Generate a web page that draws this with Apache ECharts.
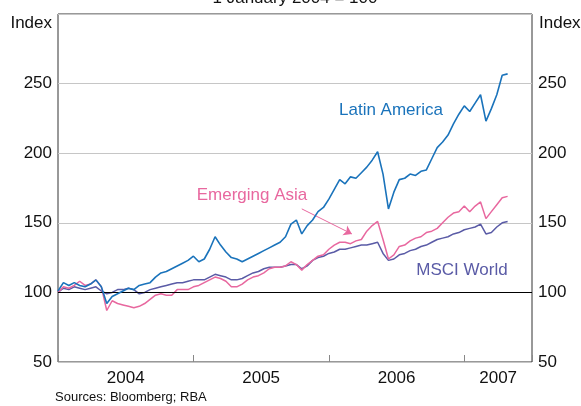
<!DOCTYPE html>
<html><head><meta charset="utf-8">
<script src="https://cdn.jsdelivr.net/npm/echarts@6/dist/echarts.min.js"></script>
<style>html,body{margin:0;padding:0;background:#fff}#c{width:581px;height:406px}</style>
</head><body><div id="c"></div><script>
const dates = [2004.00,2004.04,2004.08,2004.12,2004.16,2004.20,2004.24,2004.28,2004.32,2004.36,
2004.40,2004.44,2004.48,2004.52,2004.56,2004.60,2004.64,2004.68,2004.72,2004.76,
2004.80,2004.84,2004.88,2004.92,2004.96,2005.00,2005.04,2005.08,2005.12,2005.16,
2005.20,2005.24,2005.28,2005.32,2005.36,2005.40,2005.44,2005.48,2005.52,2005.56,
2005.60,2005.64,2005.68,2005.72,2005.76,2005.80,2005.84,2005.88,2005.92,2005.96,
2006.00,2006.04,2006.08,2006.12,2006.16,2006.20,2006.24,2006.28,2006.32,2006.36,
2006.40,2006.44,2006.48,2006.52,2006.56,2006.60,2006.64,2006.68,2006.72,2006.76,
2006.80,2006.84,2006.88,2006.92,2006.96,2007.00,2007.04,2007.08,2007.12,2007.16,
2007.20,2007.24,2007.28,2007.32];
const latinAmerica = [101,107,105,107,105,104,106,109,104,92,
97,99,101,103,102,105,106,107,111,114,
115,117,119,121,123,126,122,124,131,140,
134,129,125,124,122,124,126,128,130,132,
134,136,140,149,152,142,148,152,158,161,
167,174,181,178,183,182,186,190,195,201,
185,160,172,181,182,185,184,187,188,196,
204,208,213,221,228,234,230,236,242,223,
232,242,256,257];
const emergingAsia = [100,104,103,105,108,105,106,109,104,87,
94,92,91,90,89,90,92,95,98,99,
98,98,102,102,102,104,105,107,109,111,
110,108,104,104,106,109,111,112,114,117,
118,118,119,122,120,116,120,123,126,127,
131,134,136,136,135,137,138,144,148,151,
138,124,127,133,134,137,139,140,143,144,
146,150,154,157,158,162,158,162,165,153,
158,163,168,169];
const msciWorld = [100,103,102,104,103,102,103,104,101,99,
100,102,102,103,102,99,100,102,103,104,
105,106,107,107,108,109,109,109,111,113,
112,111,109,109,110,112,114,115,117,118,
118,118,119,120,120,117,119,123,125,126,
128,129,131,131,132,133,134,134,135,136,
128,123,124,127,128,130,131,133,134,136,
138,139,140,142,143,145,146,147,149,142,
143,147,150,151];
const yearLabels = ['2004','2005','2006','2007'];
const yearLabelPos = [2004.5,2005.5,2006.5,2007.25];
const arrowFrom = [2005.80, 160];
const arrowTo = [2006.17, 142];

const FONT = "'Liberation Sans', Arial, sans-serif";
const C_LA = '#1a73bb', C_EA = '#e8689f', C_MS = '#5a5ba6';
const pairs = (vals) => dates.map((d, i) => [d, vals[i]]);

const chart = echarts.init(document.getElementById('c'), null, {renderer: 'canvas'});
const yAxisBase = {
  type: 'value', min: 50, max: 300, interval: 50,
  axisLine: {show: false}, axisTick: {show: false},
  axisLabel: {fontSize: 17, color: '#111', fontFamily: FONT, margin: 6,
    formatter: v => (v === 300 ? '' : String(v))}
};
chart.setOption({
  animation: false,
  textStyle: {fontFamily: FONT},
  grid: {left: 58, right: 49, top: 14, bottom: 44, show: true, borderColor: '#333', borderWidth: 1, containLabel: false},
  xAxis: [
    {type: 'value', min: 2004, max: 2007.5, interval: 0.25, position: 'bottom',
     axisLine: {show: false}, axisTick: {show: false}, splitLine: {show: false},
     axisLabel: {fontSize: 17, color: '#111', fontFamily: FONT, margin: 8, showMinLabel: true, showMaxLabel: true,
       formatter: v => { const i = yearLabelPos.findIndex(p => Math.abs(p - v) < 1e-6); return i >= 0 ? yearLabels[i] : ''; }}},
    {type: 'value', min: 2004, max: 2007.5, interval: 1, position: 'bottom',
     axisLine: {show: false}, axisLabel: {show: false}, splitLine: {show: false},
     axisTick: {show: true, inside: true, length: 7, lineStyle: {color: '#888', width: 1}}}
  ],
  yAxis: [
    Object.assign({}, yAxisBase, {position: 'left', splitLine: {show: true, lineStyle: {color: '#c6c6c6', width: 1}}}),
    Object.assign({}, yAxisBase, {position: 'right', splitLine: {show: false}})
  ],
  series: [
    {name: 'MSCI World', type: 'line', data: pairs(msciWorld), showSymbol: false, symbol: 'none',
     lineStyle: {color: C_MS, width: 1.5}, z: 3,
     markLine: {silent: true, symbol: 'none', label: {show: false},
       lineStyle: {color: '#000', width: 1, type: 'solid'}, data: [{yAxis: 100}]}},
    {name: 'Emerging Asia', type: 'line', data: pairs(emergingAsia), showSymbol: false, symbol: 'none',
     lineStyle: {color: C_EA, width: 1.5}, z: 4,
     markLine: {silent: true, symbol: ['none', 'arrow'], symbolSize: 8, label: {show: false},
       lineStyle: {color: C_EA, width: 1, type: 'solid'},
       data: [[{coord: arrowFrom}, {coord: arrowTo}]]}},
    {name: 'Latin America', type: 'line', data: pairs(latinAmerica), showSymbol: false, symbol: 'none',
     lineStyle: {color: C_LA, width: 1.6}, z: 5}
  ],
  graphic: [
    {type: 'text', x: 295, y: -2, style: {text: '1 January 2004 = 100', fontSize: 17, fontFamily: FONT, fill: '#111', align: 'center', verticalAlign: 'middle'}},
    {type: 'text', x: 52, y: 23, style: {text: 'Index', fontSize: 17, fontFamily: FONT, fill: '#111', align: 'right', verticalAlign: 'middle'}},
    {type: 'text', x: 539, y: 23, style: {text: 'Index', fontSize: 17, fontFamily: FONT, fill: '#111', align: 'left', verticalAlign: 'middle'}},
    {type: 'text', x: 391, y: 110, style: {text: 'Latin America', fontSize: 17, fontFamily: FONT, fill: C_LA, align: 'center', verticalAlign: 'middle'}},
    {type: 'text', x: 252, y: 195, style: {text: 'Emerging Asia', fontSize: 17, fontFamily: FONT, fill: C_EA, align: 'center', verticalAlign: 'middle'}},
    {type: 'text', x: 462, y: 270, style: {text: 'MSCI World', fontSize: 17, fontFamily: FONT, fill: C_MS, align: 'center', verticalAlign: 'middle'}},
    {type: 'text', x: 55, y: 397, style: {text: 'Sources: Bloomberg; RBA', fontSize: 13, fontFamily: FONT, fill: '#111', align: 'left', verticalAlign: 'middle'}}
  ]
});
</script></body></html>
